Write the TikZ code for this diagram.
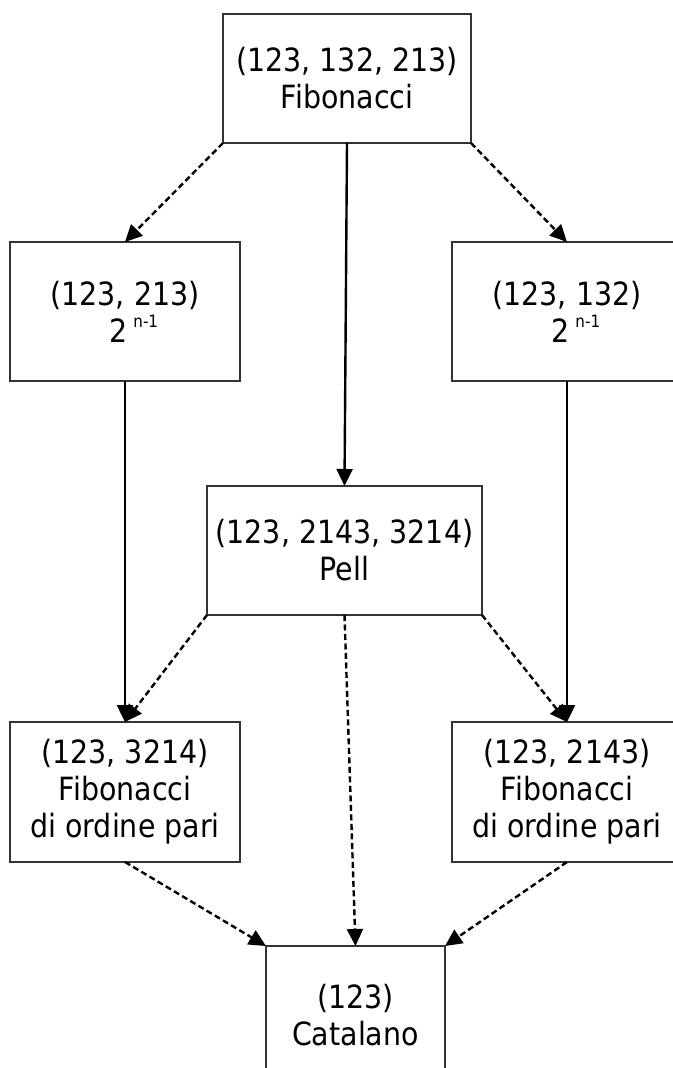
\documentclass[tikz,border=0pt]{standalone}
\usepackage{fontspec}
\setmainfont{DejaVu Sans}[FakeStretch=0.89]
\usepackage{tikz}
\usetikzlibrary{
  arrows.meta,
  positioning,
}
\newcommand{\expo}[1]{\raisebox{15pt}{\fontsize{17}{17}\selectfont #1}}
\tikzset{
  classbox/.style 2 args={
    rectangle, draw=black!80, line width=1.3pt, inner sep=0pt, outer sep=0pt,
    minimum width=#1, minimum height=#2, align=center,
    font=\fontsize{32}{37}\selectfont,
  },
  arrowSolid/.style={
    -{Triangle[length=17pt,width=16pt]}, line width=2.4pt, draw=black,
  },
  arrowDashed/.style={
    -{Triangle[length=17pt,width=16pt]}, line width=2.4pt, draw=black,
    dash pattern=on 6pt off 3.5pt,
  },
}
\begin{document}
\begin{tikzpicture}[x=1pt,y=-1pt]
\useasboundingbox (0,0) rectangle (672,1068);
\node[classbox={248pt}{129pt}] (fib) at (347,78.5) {(123, 132, 213)\\Fibonacci};
\node[classbox={230pt}{139pt}] (lft) at (125,311.5) {(123, 213)\\\ \ 2\,\expo{n-1}};
\node[classbox={230pt}{139pt}] (rgt) at (567,311.5) {(123, 132)\\\ \ 2\,\expo{n-1}};
\node[classbox={275pt}{129pt}] (pell) at (344.5,550.5) {(123, 2143, 3214)\\Pell};
\node[classbox={230pt}{140pt}] (lftlow) at (125,792) {(123, 3214)\\Fibonacci\\di ordine pari};
\node[classbox={230pt}{140pt}] (rgtlow) at (567,792) {(123, 2143)\\Fibonacci\\di ordine pari};
\node[classbox={179pt}{138pt}] (cat) at (355.5,1015) {(123)\\Catalano};

\draw[arrowDashed] (fib.south west) -- (lft.north);
\draw[arrowDashed] (fib.south east) -- (rgt.north);
\draw[arrowSolid] (fib.south) -- (pell.north);
\draw[arrowSolid] (lft.south) -- (lftlow.north);
\draw[arrowSolid] (rgt.south) -- (rgtlow.north);
\draw[arrowDashed] (pell.south west) -- (lftlow.north);
\draw[arrowDashed] (pell.south east) -- (rgtlow.north);
\draw[arrowDashed] (pell.south) -- (cat.north);
\draw[arrowDashed] (lftlow.south) -- (cat.north west);
\draw[arrowDashed] (rgtlow.south) -- (cat.north east);
\end{tikzpicture}
\end{document}
